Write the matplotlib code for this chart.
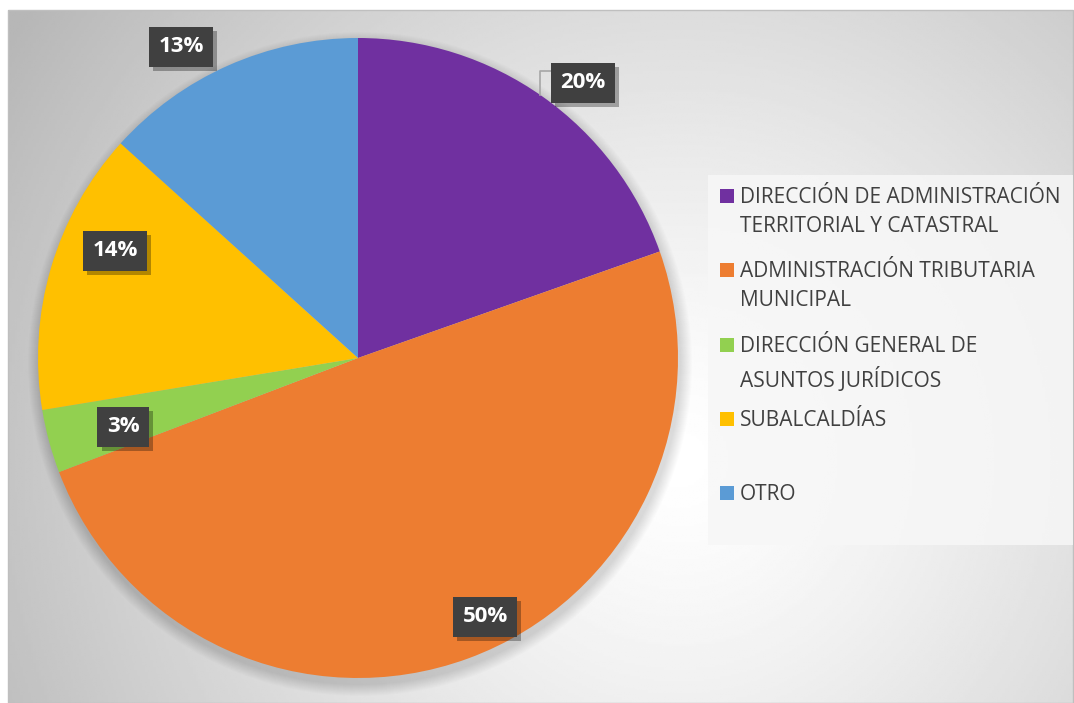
import numpy as np
import matplotlib.pyplot as plt
import matplotlib.patheffects as pe
from matplotlib.patches import Rectangle, Circle

W, H = 1074, 703

labels = ['DIRECCIÓN DE ADMINISTRACIÓN\nTERRITORIAL Y CATASTRAL',
          'ADMINISTRACIÓN TRIBUTARIA\nMUNICIPAL',
          'DIRECCIÓN GENERAL DE\nASUNTOS JURÍDICOS',
          'SUBALCALDÍAS',
          'OTRO']
values = [19.6, 49.6, 3.2, 14.3, 13.3]
colors = ['#7030A0', '#ED7D31', '#92D050', '#FFC000', '#5B9BD5']
# where each percentage box sits (pixel coords, origin top-left)
label_pos = [(583, 83), (485, 617), (123, 427), (115, 251), (181, 47)]

fig = plt.figure(figsize=(W / 100, H / 100), dpi=100)
ax = fig.add_axes([0, 0, 1, 1])

# radial gradient background of the chart area
x0, x1, y0, y1 = 8, 1073, 0, H - 10
gx, gy = np.meshgrid(np.linspace(x0, x1, 400), np.linspace(y0, y1, 300))
d = np.hypot(gx - 680, gy - (H - 460)) / 720
v = 1 - 0.25 * np.clip(d, 0, 1.1) ** 1.3
ax.imshow(v, extent=(x0, x1, y0, y1), origin='lower', cmap='gray',
          vmin=0, vmax=1, zorder=0, aspect='auto')
ax.add_patch(Rectangle((x0, y0), x1 - x0, y1 - y0, fill=False,
                       edgecolor='#bfbfbf', lw=1, zorder=1))

cx, cy, R = 358, H - 358, 320

# soft shadow under the pie
for k in range(12):
    ax.add_patch(Circle((cx + 2, cy - 6), R + 12 - k, color='black',
                        alpha=0.012, lw=0, zorder=2))

ax.pie(values, colors=colors, startangle=90, counterclock=False,
       center=(cx, cy), radius=R, frame=True,
       wedgeprops=dict(linewidth=0, zorder=3))
ax.set_xlim(0, W)
ax.set_ylim(0, H)
ax.set_aspect('equal')
ax.axis('off')

# leader line for the 20% label
ax.plot([552, 540, 540], [H - 71, H - 71, H - 95], color='#a6a6a6', lw=1.2, zorder=4)

for val, (px, py) in zip(values, label_pos):
    t = ax.text(px, H - py, f'{val:.0f}%', fontsize=16, fontweight='bold',
                family='Open Sans', color='white', ha='center', va='center', zorder=6,
                bbox=dict(boxstyle='square,pad=0.42', fc='#404040', ec='none'))
    t.get_bbox_patch().set_path_effects(
        [pe.SimplePatchShadow(offset=(3, -3), shadow_rgbFace='black', alpha=0.3), pe.Normal()])

# legend panel
ax.add_patch(Rectangle((708, H - 545), 365, 370, fc='#f7f7f7', ec='none',
                       alpha=0.85, zorder=4))
row_y = [196, 270, 345, 419, 493]
for lab, col, ry in zip(labels, colors, row_y):
    ax.add_patch(Rectangle((720, H - ry - 7), 14, 14, fc=col, ec='none', zorder=5))
    ax.text(740, H - ry + 9, lab, fontsize=15, family='Open Sans', color='#404040',
            ha='left', va='top', linespacing=1.5, zorder=6)

fig.savefig('out.png', dpi=100)
